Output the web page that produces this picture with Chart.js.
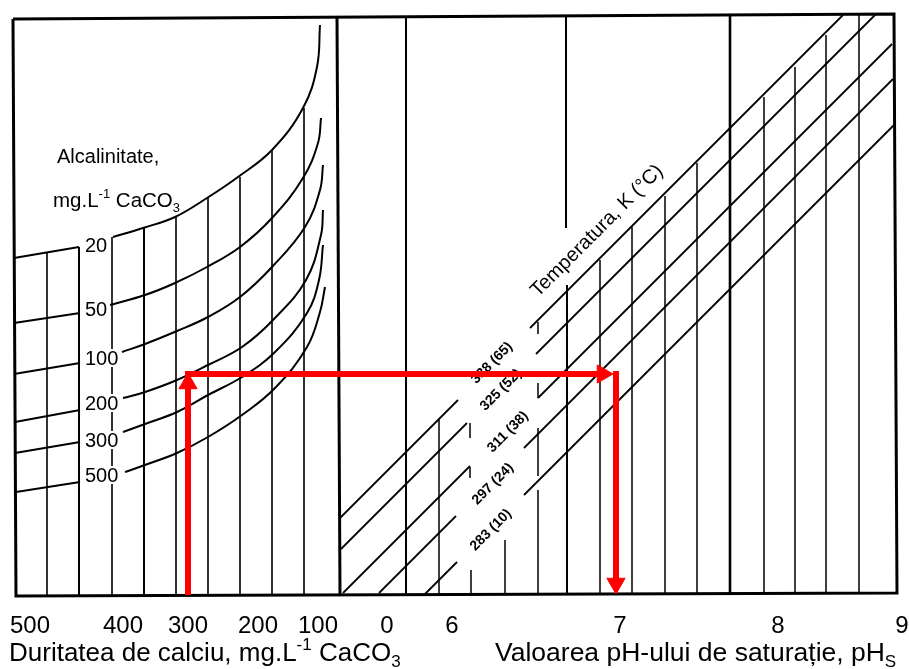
<!DOCTYPE html>
<html><head><meta charset="utf-8">
<script src="https://cdn.jsdelivr.net/npm/chart.js@4/dist/chart.umd.min.js"></script>
<style>html,body{margin:0;padding:0;background:#fff;}#wrap{position:relative;width:909px;height:669px;}</style>
</head><body><div id="wrap"><canvas id="c" width="909" height="669"></canvas></div>
<script>
// ===== Nomogram data (drawing units: x 0..909 left→right, y 0..669 top→bottom) =====
const hardnessTickLabels = ['500','400','300','200','100','0'];
const hardnessTickPos    = [30,123,188,258,318,387];
const phTickLabels = ['6','7','8','9'];
const phTickPos    = [452,620,778,902];

const alkalinityLabels = ['20','50','100','200','300','500'];
const alkalinityLabelY = [245,309,358,403,440,475];
const alkCurveLeft = [
  [[14,258],[79,247]],
  [[14,323],[80,313]],
  [[14,374],[80,363]],
  [[15,422],[80,410]],
  [[15,453],[80,442]],
  [[16,492],[80,482]]
];
const alkCurveRight = [
  [[113,237],[143,228],[175,217],[207,198],[238,177],[272,150],[303,108],[317,67],[320,25]],
  [[110,305],[145,295],[175,283],[207,267],[240,247],[272,218],[303,178],[318,143],[321,118]],
  [[122,352],[145,344],[177,331],[208,317],[240,297],[272,267],[305,227],[320,190],[323,165]],
  [[123,398],[145,392],[177,380],[208,365],[242,347],[273,320],[306,280],[321,235],[323,210]],
  [[123,432],[145,424],[177,412],[208,395],[242,377],[275,352],[307,313],[319,280],[323,245]],
  [[125,472],[145,465],[177,453],[208,437],[242,415],[275,388],[307,347],[320,312],[325,287]]
];
const hardnessGridX   = [47,79,112,144,176,208,240,272,304];
const hardnessGridTop = [252,247,237,228,216,197,177,150,108];

const tempLabels = ['338 (65)','325 (52)','311 (38)','297 (24)','283 (10)'];
const tempLabelPos = [[492,363],[501,390],[508,432],[493,484],[491,530]];
const tempLineLeft = [
  [[340,518],[458,400]],
  [[341,549],[467,423]],
  [[343,593],[470,466]],
  [[379,593],[456,516]],
  [[425,594],[457,562]]
];
const tempLineRight = [
  [[530,328],[843,15]],
  [[536,354],[876,14]],
  [[538,398],[892,44]],
  [[524,448],[893,79]],
  [[524,495],[894,125]]
];
// pH grid: [x, yTop, yBottom]
const phMajorSegments = [[406,16,594],[566,16,228],[567,285,594],[730,15,593]];
const phMinorSegments = [
  [439,419,594],[470,423,438],[470,467,478],[471,570,594],[505,540,594],
  [538,322,334],[538,383,398],[538,428,476],[538,490,594],
  [600,260,594],[632,227,593],[665,196,593],[697,163,593],
  [764,97,593],[795,67,593],[826,35,593],[859,15,593]
];
const dividerLine = [[337,16],[340,595]];
const framePoints = [[13,19],[894,14],[897,593],[16,596],[13,19]];

const arrowUp    = [[188,595],[188,373]];
const arrowRight = [[185,374],[613,374]];
const arrowDown  = [[616,371],[616,594]];

// ===== build datasets =====
const datasets = [];
const P = a => a.map(p => ({x:p[0], y:p[1]}));
function addLine(points, width, extra){
  datasets.push(Object.assign({data:P(points), showLine:true, borderColor:'#000', borderWidth:width,
    pointRadius:0, pointHoverRadius:0, tension:0, fill:false, order:2, borderCapStyle:'butt'}, extra||{}));
}
addLine(framePoints, 3);
addLine(dividerLine, 3);
alkCurveLeft.forEach(c => addLine(c, 2));
alkCurveRight.forEach(c => addLine(c, 2, {tension:0.4}));
hardnessGridX.forEach((x,i) => addLine([[x,hardnessGridTop[i]],[x,595]], (i===1||i===3)?2:1.6));
tempLineLeft.forEach(l => addLine(l, 1.8));
tempLineRight.forEach(l => addLine(l, 1.8));
phMajorSegments.forEach(s => addLine([[s[0],s[1]],[s[0],s[2]]], s[0]===730?2.6:2));
phMinorSegments.forEach(s => addLine([[s[0],s[1]],[s[0],s[2]]], 1.5));

function addArrow(path){
  const a = path[0], b = path[1];
  const dx = b[0]-a[0], dy = b[1]-a[1], L = Math.hypot(dx,dy), ux = dx/L, uy = dy/L;
  const R = 10.5;
  datasets.push({data:P([a,[b[0]-ux*R*1.2, b[1]-uy*R*1.2]]), showLine:true, borderColor:'#ff0000',
    borderWidth:6, pointRadius:0, tension:0, fill:false, order:1, borderCapStyle:'butt'});
  const rot = Math.atan2(ux, -uy)*180/Math.PI;
  datasets.push({data:P([[b[0]-ux*R, b[1]-uy*R]]), showLine:false, pointStyle:'triangle',
    pointRadius:R, pointRotation:rot, backgroundColor:'#ff0000', borderColor:'#ff0000', borderWidth:1, order:0});
}
addArrow(arrowUp);
addArrow(arrowRight);
addArrow(arrowDown);

// ===== text drawing =====
const FAM = '"Liberation Sans", Arial, sans-serif';
function drawRich(ctx, x, y, parts, size){
  let cx = x;
  ctx.textAlign = 'left'; ctx.textBaseline = 'alphabetic';
  parts.forEach(p => {
    const [t, k] = p;
    const s = k==='n' ? size : Math.round(size*0.64);
    const dy = k==='sup' ? -size*0.42 : (k==='sub' ? size*0.22 : 0);
    ctx.font = s + 'px ' + FAM;
    ctx.fillText(t, cx, y + dy);
    cx += ctx.measureText(t).width;
  });
}
function drawTexts(chart){
  const ctx = chart.ctx, xs = chart.scales.x, ys = chart.scales.y;
  const X = v => xs.getPixelForValue(v), Y = v => ys.getPixelForValue(v);
  ctx.save();
  ctx.fillStyle = '#000';
  ctx.font = '20px ' + FAM;
  ctx.textBaseline = 'middle'; ctx.textAlign = 'left';
  alkalinityLabels.forEach((t,i) => {
    const w = ctx.measureText(t).width;
    ctx.fillStyle = '#fff';
    ctx.fillRect(X(85)-1, Y(alkalinityLabelY[i])-9, w+2, 18);
    ctx.fillStyle = '#000';
    ctx.fillText(t, X(85), Y(alkalinityLabelY[i])+1);
  });
  ctx.font = '20px ' + FAM; ctx.textBaseline = 'alphabetic';
  ctx.fillText('Alcalinitate,', X(57), Y(163));
  drawRich(ctx, X(53), Y(207), [['mg.L','n'],['-1','sup'],[' CaCO','n'],['3','sub']], 20.5);
  ctx.font = 'bold 14px ' + FAM; ctx.textAlign = 'center'; ctx.textBaseline = 'middle';
  tempLabels.forEach((t,i) => {
    ctx.save(); ctx.translate(X(tempLabelPos[i][0]), Y(tempLabelPos[i][1])); ctx.rotate(-Math.PI/4);
    ctx.fillText(t, 0, 0); ctx.restore();
  });
  ctx.font = '20px ' + FAM;
  ctx.save(); ctx.translate(X(597), Y(231)); ctx.rotate(-Math.PI/4);
  ctx.fillText('Temperatura, K (\u00B0C)', 0, 0); ctx.restore();
  ctx.font = '24px ' + FAM; ctx.textAlign = 'center'; ctx.textBaseline = 'alphabetic';
  hardnessTickLabels.forEach((t,i) => ctx.fillText(t, X(hardnessTickPos[i]), Y(633)));
  phTickLabels.forEach((t,i) => ctx.fillText(t, X(phTickPos[i]), Y(633)));
  drawRich(ctx, X(9), Y(661), [['Duritatea de calciu, mg.L','n'],['-1','sup'],[' CaCO','n'],['3','sub']], 26);
  drawRich(ctx, X(495), Y(661), [['Valoarea pH-ului de satura\u021Bie, pH','n'],['S','sub']], 26.5);
  ctx.restore();
}
const textPlugin = {
  id:'nomoTexts',
  beforeDatasetsDraw(chart){ chart.$txtDone = false; },
  beforeDatasetDraw(chart, args){
    const ds = chart.data.datasets[args.index];
    if (!chart.$txtDone && (ds.order||0) < 2){ drawTexts(chart); chart.$txtDone = true; }
  },
  afterDatasetsDraw(chart){ if (!chart.$txtDone){ drawTexts(chart); chart.$txtDone = true; } }
};
const bgPlugin = { id:'bg', beforeDraw(chart){ const c=chart.ctx; c.save(); c.fillStyle='#fff'; c.fillRect(0,0,chart.width,chart.height); c.restore(); } };

new Chart(document.getElementById('c'), {
  type:'scatter',
  data:{datasets},
  options:{
    responsive:false, animation:false, events:[],
    layout:{padding:0, autoPadding:false},
    plugins:{legend:{display:false}, tooltip:{enabled:false}, title:{display:false}},
    scales:{
      x:{type:'linear', min:0, max:909, display:false},
      y:{type:'linear', min:0, max:669, reverse:true, display:false}
    }
  },
  plugins:[bgPlugin, textPlugin]
});
</script></body></html>
